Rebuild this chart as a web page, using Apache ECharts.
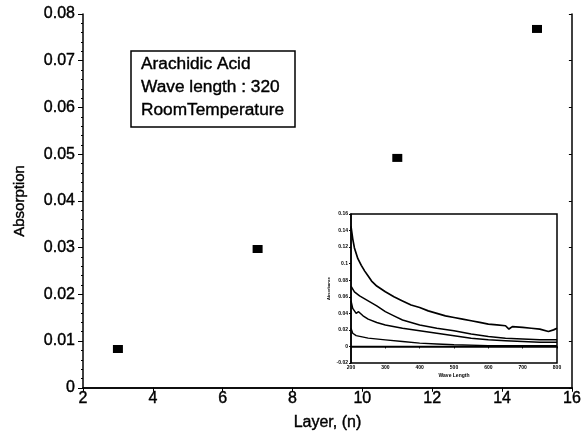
<!DOCTYPE html>
<html><head><meta charset="utf-8">
<script src="https://cdn.jsdelivr.net/npm/echarts@6/dist/echarts.min.js"></script>
<style>html,body{margin:0;padding:0;background:#fff}#c{width:584px;height:436px}</style>
</head><body><div id="c"></div>
<script>
// Main plot data
const layers = [3, 7, 11, 15];
const absorption = [0.0083, 0.0297, 0.0492, 0.0768];
const infoLines = ['Arachidic Acid', 'Wave length : 320', 'RoomTemperature'];

// Inset spectra: [wavelength, absorbance]
const spec1 = [[200,0.145],[205,0.130],[210,0.119],[220,0.106],[230,0.098],[240,0.091],[250,0.085],[260,0.079],[275,0.073],[300,0.066],[325,0.060],[350,0.055],[375,0.050],[400,0.047],[425,0.043],[450,0.040],[475,0.037],[500,0.035],[525,0.033],[550,0.031],[575,0.029],[600,0.027],[625,0.026],[650,0.025],[660,0.021],[670,0.024],[700,0.023],[725,0.022],[750,0.021],[775,0.018],[790,0.020],[800,0.022]];
const spec2 = [[200,0.073],[210,0.066],[225,0.061],[250,0.055],[275,0.049],[300,0.042],[325,0.037],[350,0.032],[375,0.029],[400,0.026],[450,0.022],[500,0.019],[550,0.015],[600,0.012],[650,0.010],[700,0.009],[750,0.008],[800,0.008]];
const spec3 = [[200,0.055],[205,0.046],[215,0.040],[222,0.042],[235,0.037],[250,0.033],[275,0.029],[300,0.026],[350,0.022],[400,0.019],[450,0.016],[500,0.013],[550,0.010],[600,0.008],[650,0.007],[700,0.006],[750,0.005],[800,0.005]];
const spec4 = [[200,0.022],[205,0.016],[215,0.013],[250,0.010],[300,0.008],[350,0.006],[400,0.004],[450,0.003],[500,0.002],[600,0.001],[700,0.001],[800,0.001]];
const baseline = [[200,0],[800,0]];

const F = 'Liberation Sans, Arial, sans-serif';
const chart = echarts.init(document.getElementById('c'), null, {renderer:'canvas'});
const blk = '#000';
const thick = {textBorderColor:blk, textBorderWidth:0.4};
const axLine = {show:true, lineStyle:{color:blk, width:1.5}};
chart.setOption({
  animation:false,
  backgroundColor:'#fff',
  grid:[
    {left:83, right:11, top:14, bottom:48, show:false},
    {left:351, top:214, width:206, height:149, show:true, backgroundColor:'#fff', borderColor:blk, borderWidth:1.5, z:5}
  ],
  xAxis:[
    {gridIndex:0, type:'value', min:2, max:16, interval:2, position:'bottom',
     name:'Layer, (n)', nameLocation:'middle', nameGap:27,
     nameTextStyle:Object.assign({fontFamily:F, fontSize:16, color:blk}, thick),
     axisLine:axLine, axisTick:{show:true, inside:false, length:4, lineStyle:{color:blk}},
     axisLabel:Object.assign({fontFamily:F, fontSize:16, color:blk, margin:3}, thick), splitLine:{show:false}},
    {gridIndex:0, type:'value', min:2, max:16, interval:2, position:'top',
     axisLine:axLine, axisTick:{show:true, inside:true, length:3, lineStyle:{color:blk}},
     axisLabel:{show:false}, splitLine:{show:false}},
    {gridIndex:1, type:'value', min:200, max:800, interval:100,
     name:'Wave Length', nameLocation:'middle', nameGap:10,
     nameTextStyle:{fontFamily:F, fontSize:5, fontWeight:'bold', color:blk},
     axisLine:axLine, axisTick:{show:true, length:2, lineStyle:{color:blk}},
     axisLabel:{fontFamily:F, fontSize:5, fontWeight:'bold', color:blk, margin:2}, splitLine:{show:false}, z:6}
  ],
  yAxis:[
    {gridIndex:0, type:'value', min:0, max:0.08, interval:0.01,
     name:'Absorption', nameLocation:'middle', nameGap:56,
     nameTextStyle:Object.assign({fontFamily:F, fontSize:15, color:blk}, thick),
     axisLine:axLine, axisTick:{show:true, length:5, lineStyle:{color:blk}},
     minorTick:{show:true, splitNumber:5, length:2, lineStyle:{color:blk}},
     axisLabel:Object.assign({fontFamily:F, fontSize:16, color:blk, margin:8}, thick), splitLine:{show:false}},
    {gridIndex:0, type:'value', min:0, max:0.08, interval:0.01, position:'right',
     axisLine:axLine, axisTick:{show:true, inside:true, length:3, lineStyle:{color:blk}},
     axisLabel:{show:false}, splitLine:{show:false}},
    {gridIndex:1, type:'value', min:-0.02, max:0.16, interval:0.02,
     name:'Absorbance', nameLocation:'middle', nameGap:20,
     nameTextStyle:{fontFamily:F, fontSize:4, fontWeight:'bold', color:blk},
     axisLine:axLine, axisTick:{show:true, length:2, lineStyle:{color:blk}},
     axisLabel:{fontFamily:F, fontSize:5, fontWeight:'bold', color:blk, margin:3}, splitLine:{show:false}, z:6}
  ],
  series:[
    {type:'scatter', xAxisIndex:0, yAxisIndex:0, symbol:'rect', symbolSize:[10,8],
     itemStyle:{color:blk, opacity:1}, data:layers.map((x,i)=>[x, absorption[i]]), z:2},
    {type:'line', xAxisIndex:2, yAxisIndex:2, data:spec1, showSymbol:false, lineStyle:{color:blk, width:1.7}, z:7},
    {type:'line', xAxisIndex:2, yAxisIndex:2, data:spec2, showSymbol:false, lineStyle:{color:blk, width:1.5}, z:7},
    {type:'line', xAxisIndex:2, yAxisIndex:2, data:spec3, showSymbol:false, lineStyle:{color:blk, width:1.5}, z:7},
    {type:'line', xAxisIndex:2, yAxisIndex:2, data:spec4, showSymbol:false, lineStyle:{color:blk, width:1.4}, z:7},
    {type:'line', xAxisIndex:2, yAxisIndex:2, data:baseline, showSymbol:false, lineStyle:{color:blk, width:1.2}, z:7}
  ],
  graphic:[
    {type:'rect', shape:{x:131, y:51, width:164, height:76}, style:{fill:'#fff', stroke:blk, lineWidth:1.5}, z:10},
    ...infoLines.map((t,i)=>({type:'text', x:141, y:56+i*23, style:{text:t, fontFamily:F, fontSize:17.3, fill:blk, stroke:blk, lineWidth:0.4}, z:11}))
  ]
});
</script></body></html>
